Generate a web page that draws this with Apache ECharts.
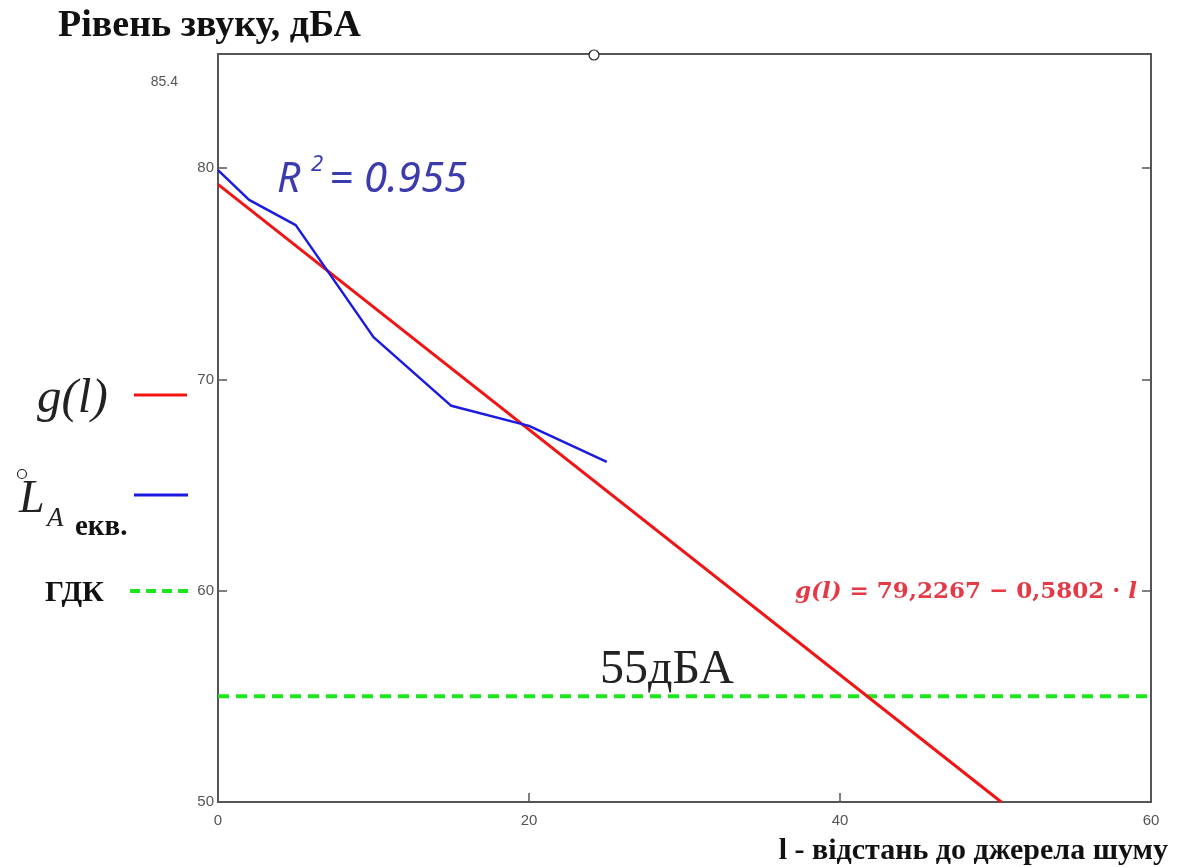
<!DOCTYPE html>
<html>
<head>
<meta charset="utf-8">
<script src="https://cdn.jsdelivr.net/npm/echarts@6/dist/echarts.min.js"></script>
<style>
  html, body { margin: 0; padding: 0; background: #fff; }
  #chart { width: 1185px; height: 867px; }
</style>
</head>
<body>
<div id="chart"></div>
<script>
// вимірювані значення L_A екв.
var distances = [0, 2, 5, 10, 15, 20, 25]
var levels = [79.9, 78.5, 77.3, 72.0, 68.75, 67.8, 66.1]
// лінія регресії g(l) (кінці відрізка)
var fitX = [0, 50.37]
var fitY = [79.23, 50.0]
// ГДК
var limitX = [0, 60]
var limitY = [55, 55]

var xTicks = [0, 20, 40, 60]
var yTicks = [50, 60, 70, 80]

var serif = '"Liberation Serif", "DejaVu Serif", serif'
var narrow = '"Liberation Sans Narrow", "Liberation Sans", sans-serif'
var mathFont = '"DejaVu Serif", serif'

function pairs (xs, ys) {
  return xs.map(function (x, i) { return [x, ys[i]] })
}

var myChart = echarts.init(document.getElementById('chart'))

var option = {
  animation: false,
  grid: {
    left: 218,
    right: 34,
    top: 54,
    bottom: 65,
    show: true,
    borderColor: '#555',
    borderWidth: 2
  },
  xAxis: {
    type: 'value',
    min: xTicks[0],
    max: xTicks[xTicks.length - 1],
    interval: 20,
    axisLine: { show: false },
    axisTick: { inside: true, length: 9, lineStyle: { color: '#555', width: 1.5 } },
    splitLine: { show: false },
    axisLabel: { color: '#555', fontFamily: narrow, fontSize: 15, margin: 11 }
  },
  yAxis: [
    {
      type: 'value',
      min: yTicks[0],
      max: 85.4,
      interval: 10,
      axisLine: { show: false },
      axisTick: { inside: true, length: 9, lineStyle: { color: '#555', width: 1.5 } },
      splitLine: { show: false },
      axisLabel: {
        color: '#555', fontFamily: narrow, fontSize: 15, margin: 4,
        showMaxLabel: false,
        formatter: function (v) { return yTicks.indexOf(v) >= 0 ? String(v) : '' }
      }
    },
    {
      type: 'value',
      position: 'right',
      min: yTicks[0],
      max: 85.4,
      interval: 10,
      axisLine: { show: false },
      axisTick: { inside: true, length: 9, lineStyle: { color: '#555', width: 1.5 } },
      splitLine: { show: false },
      axisLabel: { show: false }
    }
  ],
  series: [
    {
      name: 'ГДК',
      type: 'line',
      data: pairs(limitX, limitY),
      symbol: 'none',
      lineStyle: { color: '#1ee61e', width: 4, type: [11, 7] },
      z: 2
    },
    {
      name: 'g(l)',
      type: 'line',
      data: pairs(fitX, fitY),
      symbol: 'none',
      lineStyle: { color: '#f01414', width: 3 },
      z: 3
    },
    {
      name: 'L_A екв.',
      type: 'line',
      data: pairs(distances, levels),
      symbol: 'none',
      lineStyle: { color: '#1a1ae0', width: 2.5 },
      z: 4
    }
  ],
  graphic: [
    // заголовки
    { type: 'text', x: 58, y: 26, style: { text: 'Рівень звуку, дБА', font: 'bold 38px ' + serif, fill: '#111', verticalAlign: 'middle' } },
    { type: 'text', x: 1168, y: 851, style: { text: 'l - відстань до джерела шуму', font: 'bold 30px ' + serif, fill: '#111', align: 'right', verticalAlign: 'middle' } },
    { type: 'text', x: 178, y: 82, style: { text: '85.4', font: '14px ' + narrow, fill: '#555', align: 'right', verticalAlign: 'middle' } },
    // R^2
    { type: 'text', x: 277, y: 180, style: { text: 'R', font: 'italic 41px "Noto Sans", sans-serif', fill: '#3b3bad', verticalAlign: 'middle' } },
    { type: 'text', x: 311, y: 165, style: { text: '2', font: 'italic 22px "Noto Sans", sans-serif', fill: '#3b3bad', verticalAlign: 'middle' } },
    { type: 'text', x: 329, y: 180, style: { text: '= 0.955', font: 'italic 42px "Noto Sans", sans-serif', fill: '#3b3bad', verticalAlign: 'middle' } },
    // рівняння
    {
      type: 'text', x: 795, y: 592,
      style: {
        text: '{i|g(l)}{n| = 79,2267 − 0,5802 · }{i|l}',
        verticalAlign: 'middle',
        rich: {
          i: { font: 'bold italic 23px ' + mathFont, fill: '#e53a45' },
          n: { font: 'bold 23px ' + mathFont, fill: '#e53a45' }
        }
      }
    },
    // 55 дБА
    { type: 'text', x: 600, y: 670, style: { text: '55дБА', font: '48px ' + serif, fill: '#222', verticalAlign: 'middle' } },
    // легенда
    { type: 'text', x: 37, y: 399, style: { text: 'g(l)', font: 'italic 49px ' + serif, fill: '#222', verticalAlign: 'middle' } },
    { type: 'line', shape: { x1: 134, y1: 395, x2: 187, y2: 395 }, style: { stroke: '#f01414', lineWidth: 3 } },
    { type: 'text', x: 19, y: 500, style: { text: 'L', font: 'italic 46px ' + serif, fill: '#222', verticalAlign: 'middle' } },
    { type: 'text', x: 47, y: 519, style: { text: 'A', font: 'italic 27px ' + serif, fill: '#222', verticalAlign: 'middle' } },
    { type: 'text', x: 75, y: 528, style: { text: 'екв.', font: 'bold 29px ' + serif, fill: '#111', verticalAlign: 'middle' } },
    { type: 'line', shape: { x1: 134, y1: 495, x2: 188, y2: 495 }, style: { stroke: '#1a1ae0', lineWidth: 3 } },
    { type: 'text', x: 45, y: 593, style: { text: 'ГДК', font: 'bold 30px ' + serif, fill: '#111', verticalAlign: 'middle' } },
    { type: 'line', shape: { x1: 130, y1: 591, x2: 188, y2: 591 }, style: { stroke: '#1ee61e', lineWidth: 4, lineDash: [10, 6] } },
    // маркери MathCAD
    { type: 'circle', shape: { cx: 22, cy: 474, r: 4.5 }, style: { fill: '#fff', stroke: '#222', lineWidth: 1.2 } },
    { type: 'circle', shape: { cx: 594, cy: 55, r: 5 }, style: { fill: '#fff', stroke: '#222', lineWidth: 1.2 }, z: 100 }
  ]
}

myChart.setOption(option)
</script>
</body>
</html>
